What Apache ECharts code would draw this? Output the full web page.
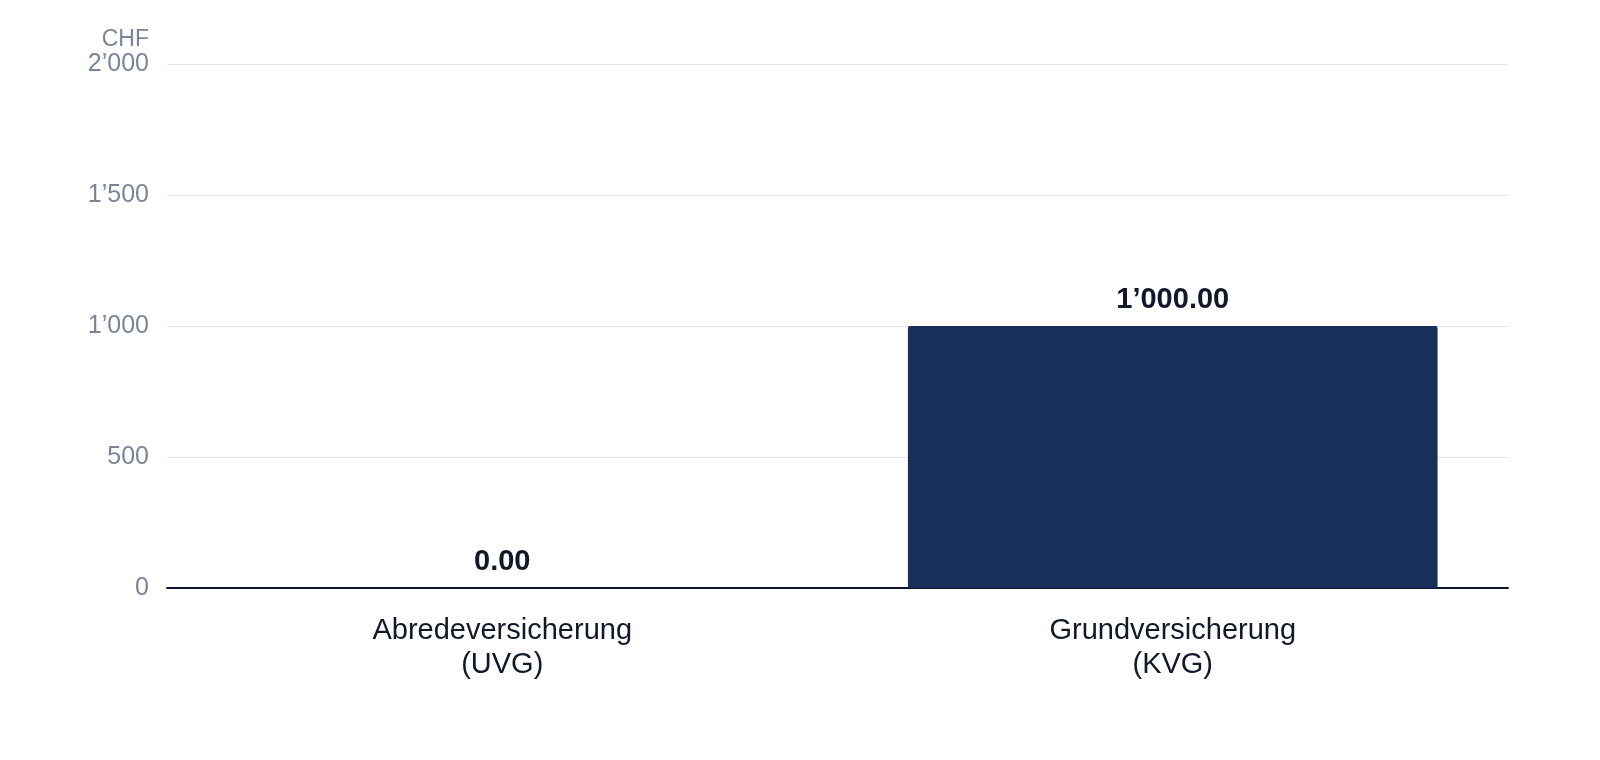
<!DOCTYPE html>
<html>
<head>
<meta charset="utf-8">
<script src="https://cdn.jsdelivr.net/npm/echarts@6/dist/echarts.min.js"></script>
<style>
html,body{margin:0;padding:0;background:#fff;}
#c{width:1600px;height:760px;}
</style>
</head>
<body>
<div id="c"></div>
<script>
const categories = ['Abredeversicherung\n(UVG)', 'Grundversicherung\n(KVG)'];
const values = [0, 1000];
const yTicks = [0, 500, 1000, 1500, 2000];
const unitLabel = 'CHF';

function swiss(n, dec) {
  const s = n.toFixed(dec);
  const parts = s.split('.');
  parts[0] = parts[0].replace(/\B(?=(\d{3})+(?!\d))/g, '\u2019');
  return parts.join('.');
}

const FONT = '"Liberation Sans", Arial, Helvetica, sans-serif';
const chart = echarts.init(document.getElementById('c'), null, {renderer: 'canvas'});
chart.setOption({
  animation: false,
  backgroundColor: '#ffffff',
  grid: {left: 167, right: 92, top: 64, bottom: 172, containLabel: false},
  xAxis: {
    type: 'category',
    data: categories,
    axisLine: {show: true, lineStyle: {color: '#0f172a', width: 2}},
    axisTick: {show: false},
    axisLabel: {color: '#111827', fontSize: 29, fontFamily: FONT, lineHeight: 34, margin: 26}
  },
  yAxis: {
    type: 'value',
    min: yTicks[0],
    max: yTicks[yTicks.length - 1],
    interval: 500,
    name: unitLabel,
    nameLocation: 'end',
    nameGap: 2,
    nameTextStyle: {color: '#7b8499', fontSize: 23, fontFamily: FONT, align: 'right', padding: [0, 18, -12, 0]},
    axisLine: {show: false},
    axisTick: {show: false},
    splitLine: {lineStyle: {color: '#e3e6ec', width: 1}},
    axisLabel: {color: '#7b8499', fontSize: 25, fontFamily: FONT, margin: 18,
      formatter: v => swiss(v, 0)}
  },
  series: [{
    type: 'bar',
    data: values,
    barCategoryGap: '21%',
    itemStyle: {color: '#17305a', borderRadius: 2},
    label: {
      show: true,
      position: 'top',
      distance: 12,
      color: '#111827',
      fontSize: 29,
      fontWeight: 'bold',
      fontFamily: FONT,
      formatter: p => swiss(p.value, 2)
    }
  }]
});
</script>
</body>
</html>
